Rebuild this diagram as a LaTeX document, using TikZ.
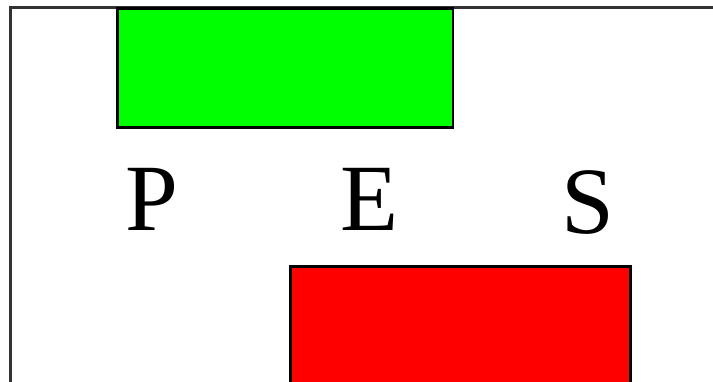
\documentclass[tikz,border=0pt]{standalone}
\usepackage{fontspec}
\setmainfont{Liberation Serif}
\begin{document}
\begin{tikzpicture}[x=1pt,y=-1pt,
  frame/.style={draw=black!80,line width=2.2pt},
  box/.style={draw=black,line width=2.4pt},
  letter/.style={anchor=base,inner sep=0pt,font=\fontsize{95}{95}\selectfont}]
\useasboundingbox (0,0) rectangle (713,382);
\begin{scope}
\clip (0,0) rectangle (713,382);
\draw[frame] (10.5,400) -- (10.5,7.5) -- (730,7.5);
\filldraw[box,fill={rgb,255:red,0;green,255;blue,0}] (117.5,8.5) rectangle (453,127.5);
\filldraw[box,fill={rgb,255:red,255;green,0;blue,0}] (290.5,266.5) rectangle (630.5,400);
\end{scope}
\node[letter] (p) at (152,231) {P};
\node[letter] (e) at (370,231) {E};
\node[letter] (s) at (588,234) {S};
\end{tikzpicture}
\end{document}
